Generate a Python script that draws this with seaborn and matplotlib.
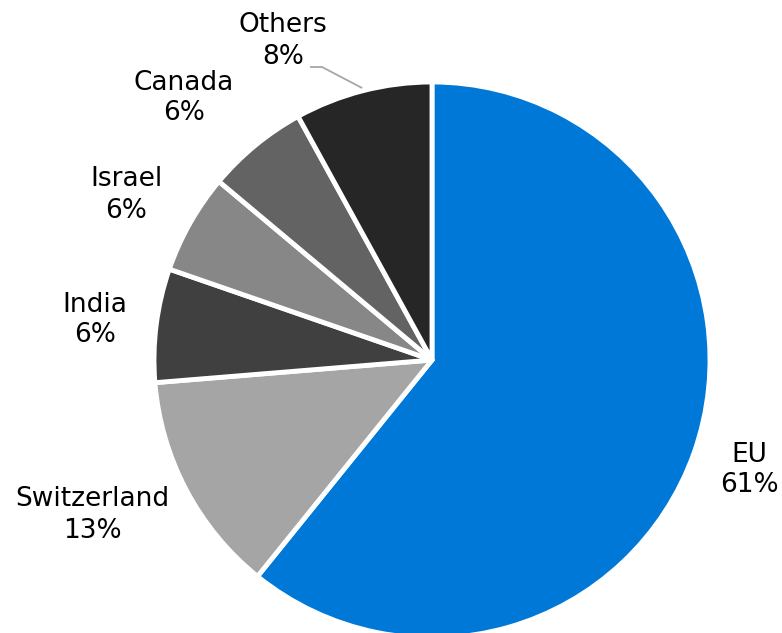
import matplotlib
matplotlib.use("Agg")
import matplotlib.pyplot as plt
import seaborn as sns
import numpy as np

# data (slice shares estimated from the angles)
regions = ["EU", "Switzerland", "India", "Israel", "Canada", "Others"]
shares = [60.8, 12.9, 6.6, 5.8, 5.9, 8.0]
shown_pct = [61, 13, 6, 6, 6, 8]
colors = ["#0078D7", "#A5A5A5", "#404040", "#878787", "#636363", "#262626"]

# label centres in pixels of the 782x633 picture
label_px = [(749, 470), (92, 515), (95, 320), (126, 195), (184, 98), (283, 41)]

sns.set_theme(style="white")
plt.rcParams["font.family"] = ["DejaVu Sans"]

W, H = 782, 633
CX, CY = 432, 360   # pie centre in pixels
R = 278

fig = plt.figure(figsize=(W / 100, H / 100), dpi=100)
ax = fig.add_axes([0, 0, 1, 1])

wedges, _ = ax.pie(shares, colors=colors, radius=R, center=(0, 0),
                   startangle=90, counterclock=False,
                   wedgeprops=dict(edgecolor="white", linewidth=3.5,
                                   joinstyle="round"))

# data units == pixels
ax.set_xlim(-CX, W - CX)
ax.set_ylim(-(H - CY), CY)
ax.set_aspect("equal")
ax.axis("off")

for name, pct, (px, py) in zip(regions, shown_pct, label_px):
    ax.text(px - CX, CY - py, f"{name}\n{pct}%", ha="center", va="center",
            multialignment="center", fontsize=19, color="black", linespacing=1.25)

# leader line for Others
w = wedges[-1]
mid = np.deg2rad((w.theta1 + w.theta2) / 2)
ex, ey = R * 1.01 * np.cos(mid), R * 1.01 * np.sin(mid)
ax.plot([310 - CX, 322 - CX, ex], [CY - 67, CY - 67, ey],
        color="#A6A6A6", lw=1.3, solid_capstyle="butt")

fig.savefig("out.png", dpi=100)
